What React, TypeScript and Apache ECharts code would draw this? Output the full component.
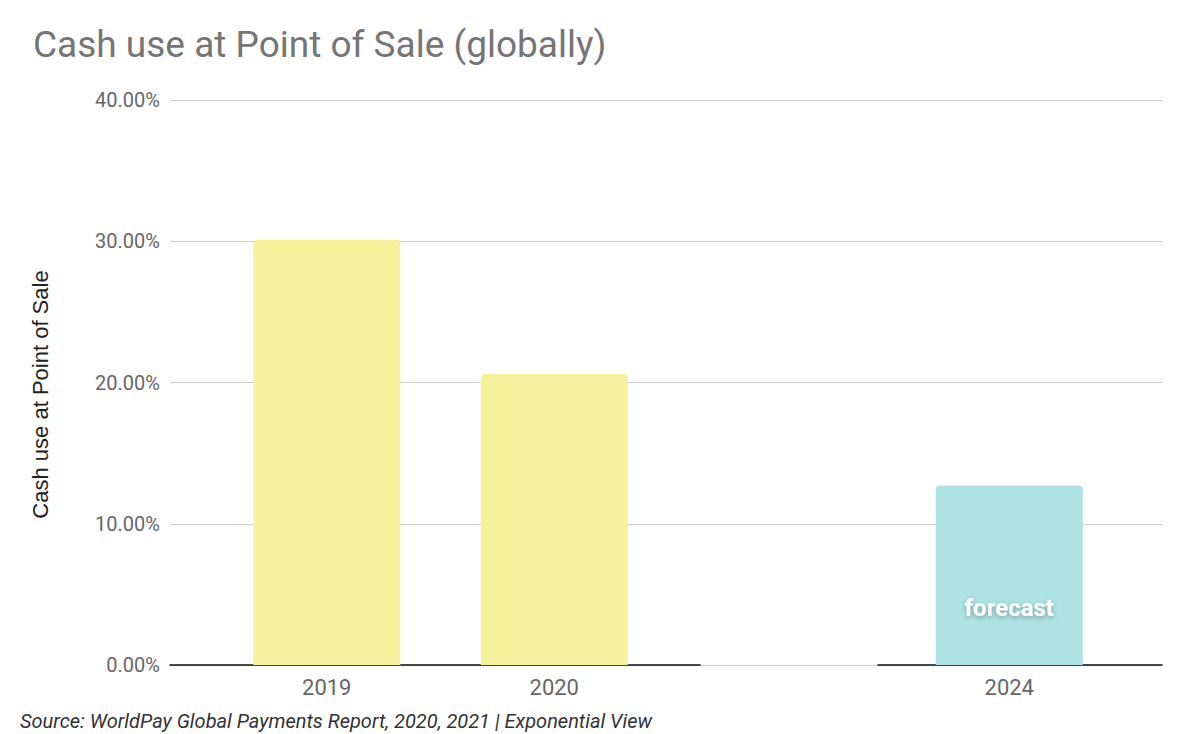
import React, { useEffect, useRef } from "react";
import * as echarts from "echarts";

const categories = ["2019", "2020", "", "2024"];
const cashShare = [30.1, 20.6, null, 12.7];
const barColors = ["#f6f29b", "#f6f29b", "#f6f29b", "#aee3e3"];
const barLabels = ["", "", "", "forecast"];
const yTicks = { min: 0, max: 40, interval: 10 };

const FONT = "Roboto, 'Noto Sans', sans-serif";

export default function App() {
  const ref = useRef<HTMLDivElement>(null);
  useEffect(() => {
    if (!ref.current) return;
    const chart = echarts.init(ref.current, null, { renderer: "svg" });
    const hiddenY = (gridIndex: number) => ({
      type: "value",
      gridIndex,
      min: yTicks.min,
      max: yTicks.max,
      interval: yTicks.interval,
      show: false,
    });
    const lineX = (gridIndex: number) => ({
      type: "category",
      gridIndex,
      data: [""],
      axisLine: { show: true, lineStyle: { color: "#111", width: 1.5 } },
      axisTick: { show: false },
      axisLabel: { show: false },
    });
    chart.setOption({
      animation: false,
      textStyle: { fontFamily: FONT },
      title: [
        {
          text: "Cash use at Point of Sale (globally)",
          left: 28,
          top: 21,
          textStyle: { fontFamily: FONT, fontSize: 37, fontWeight: "normal", color: "#757575" },
        },
        {
          text: "Source: WorldPay Global Payments Report, 2020, 2021 | Exponential View",
          left: 15,
          top: 706,
          textStyle: {
            fontFamily: FONT,
            fontSize: 20,
            fontStyle: "italic",
            fontWeight: "normal",
            color: "#333",
          },
        },
      ],
      grid: [
        { left: 170, right: 38, top: 100, bottom: 69 },
        { left: 170, right: 500, top: 100, bottom: 69 },
        { left: 878, right: 38, top: 100, bottom: 69 },
        { left: 213, right: 77, top: 100, bottom: 69 },
      ],
      xAxis: [
        { type: "category", gridIndex: 0, data: [""], show: false },
        lineX(1),
        lineX(2),
        {
          type: "category",
          gridIndex: 3,
          data: categories,
          axisLine: { show: false },
          axisTick: { show: false },
          axisLabel: { color: "#666", fontSize: 22, margin: 11, fontFamily: FONT },
        },
      ],
      yAxis: [
        {
          type: "value",
          gridIndex: 0,
          min: yTicks.min,
          max: yTicks.max,
          interval: yTicks.interval,
          name: "Cash use at Point of Sale",
          nameLocation: "middle",
          nameGap: 119,
          nameTextStyle: {
            color: "#222",
            fontSize: 22,
            fontFamily: "'Liberation Sans', Arial, sans-serif",
            padding: [0, 24, 0, 0],
          },
          axisLabel: {
            color: "#666",
            fontSize: 20,
            margin: 10,
            fontFamily: FONT,
            formatter: (v: number) => v.toFixed(2) + "%",
          },
          axisLine: { show: false },
          axisTick: { show: false },
          splitLine: { lineStyle: { color: "#cccccc", width: 1.2 } },
        },
        hiddenY(1),
        hiddenY(2),
        hiddenY(3),
      ],
      series: [
        {
          type: "bar",
          xAxisIndex: 3,
          yAxisIndex: 3,
          barWidth: 147,
          data: cashShare.map((v, i) => ({
            value: v,
            itemStyle: { color: barColors[i], borderRadius: [4, 4, 0, 0] },
            label: {
              show: barLabels[i] !== "",
              formatter: barLabels[i],
              position: "insideBottom",
              distance: 45,
              color: "#fff",
              fontSize: 24,
              fontWeight: "bold",
              fontFamily: FONT,
              textShadowColor: "rgba(0,0,0,0.3)",
              textShadowBlur: 5,
              textShadowOffsetY: 2,
            },
          })),
        },
      ],
    });
    return () => chart.dispose();
  }, []);
  return (
    <div
      ref={ref}
      style={{ position: "absolute", left: 0, top: 0, width: 1200, height: 734, background: "#fff" }}
    />
  );
}
